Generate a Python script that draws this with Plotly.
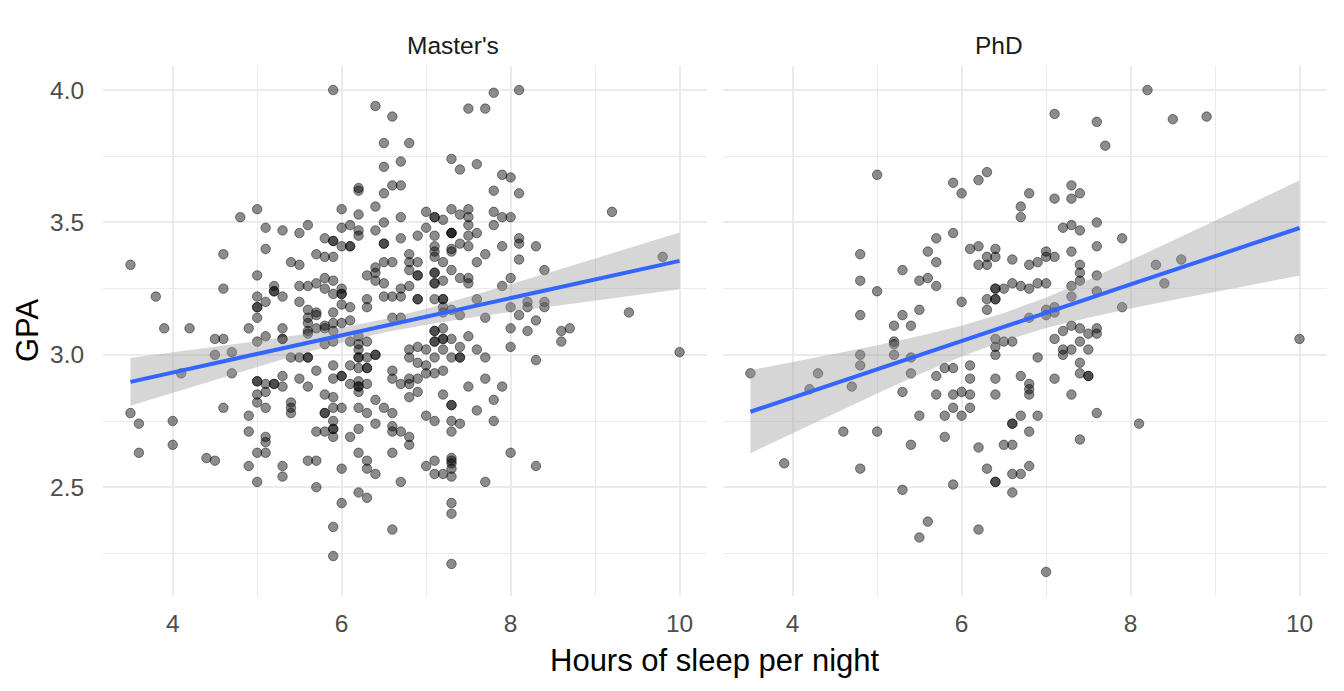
import plotly.graph_objects as go

# ── data ───────────────────────────────────────────────────────────────
PANELS = ["Master's", "PhD"]

masters_hours = (
    [3.5] * 2 + [3.6] * 2 + [3.8, 3.9] + [4.0] * 2 + [4.1, 4.2, 4.4] + [4.5] * 3
    + [4.6] * 4 + [4.7] * 2 + [4.8] + [4.9] * 4 + [5.0] * 13 + [5.1] * 10
    + [5.2] * 5 + [5.3] * 9 + [5.4] * 5 + [5.5] * 6 + [5.6] * 11 + [5.7] * 9
    + [5.8] * 11 + [5.9] * 20 + [6.0] * 13 + [6.1] * 9 + [6.2] * 19 + [6.3] * 12
    + [6.4] * 11 + [6.5] * 10 + [6.6] * 12 + [6.7] * 10 + [6.8] * 12 + [6.9] * 10
    + [7.0] * 7 + [7.1] * 20 + [7.2] * 14 + [7.3] * 23 + [7.4] * 9 + [7.5] * 10
    + [7.6] * 6 + [7.7] * 6 + [7.8] * 6 + [7.9] * 5 + [8.0] * 7 + [8.1] * 6
    + [8.2] * 3 + [8.3] * 4 + [8.4] * 3 + [8.6] * 2 + [8.7, 9.2, 9.4, 9.8, 10.0]
)
masters_gpa = [
    3.34, 2.78, 2.74, 2.63, 3.22, 3.10, 2.75, 2.66, 2.93, 3.10, 2.61, 3.06, 3.00, 2.60,
    3.38, 3.25, 3.06, 2.80, 3.01, 2.93, 3.52, 3.10, 2.77, 2.71, 2.58,
    3.55, 3.30, 3.22, 3.18, 3.18, 3.14, 3.05, 2.90, 2.90, 2.85, 2.82, 2.63, 2.52,
    3.48, 3.40, 3.20, 3.07, 2.89, 2.86, 2.80, 2.69, 2.67, 2.63,
    3.26, 3.24, 3.24, 2.89, 2.89,
    3.47, 3.22, 3.10, 3.06, 3.06, 2.92, 2.88, 2.58, 2.54,
    3.35, 2.99, 2.82, 2.80, 2.78,
    3.46, 3.34, 3.26, 3.20, 2.99, 2.91,
    3.49, 3.26, 3.17, 3.14, 3.12, 3.09, 3.08, 2.99, 2.99, 2.88, 2.60,
    3.38, 3.27, 3.16, 3.15, 3.10, 2.94, 2.71, 2.60, 2.50,
    3.44, 3.37, 3.29, 3.25, 3.11, 3.10, 3.04, 2.85, 2.78, 2.78, 2.71,
    4.00, 3.43, 3.43, 3.37, 3.28, 3.23, 3.16, 3.12, 3.09, 3.05, 2.96, 2.91, 2.84, 2.80,
    2.75, 2.72, 2.72, 2.69, 2.35, 2.24,
    3.55, 3.48, 3.41, 3.25, 3.23, 3.23, 3.19, 3.12, 2.92, 2.92, 2.80, 2.57, 2.44,
    3.49, 3.41, 3.41, 3.18, 3.13, 3.05, 2.96, 2.89, 2.69,
    3.63, 3.62, 3.53, 3.47, 3.45, 3.07, 3.04, 3.02, 2.99, 2.99, 2.95, 2.90, 2.88, 2.88,
    2.86, 2.80, 2.72, 2.63, 2.48,
    3.30, 3.21, 3.18, 3.05, 2.99, 2.95, 2.95, 2.89, 2.78, 2.60, 2.57, 2.46,
    3.94, 3.56, 3.47, 3.33, 3.31, 3.28, 3.00, 3.00, 2.83, 2.74, 2.55,
    3.80, 3.71, 3.61, 3.50, 3.42, 3.42, 3.35, 3.27, 3.22, 2.80,
    3.90, 3.64, 3.35, 3.22, 3.14, 2.94, 2.91, 2.78, 2.73, 2.71, 2.63, 2.34,
    3.73, 3.64, 3.52, 3.44, 3.25, 3.22, 3.14, 2.89, 2.71, 2.52,
    3.80, 3.38, 3.35, 3.32, 3.26, 3.02, 2.99, 2.91, 2.89, 2.84, 2.69, 2.66,
    3.45, 3.35, 3.30, 3.30, 3.21, 3.21, 3.03, 2.97, 2.91, 2.86,
    3.54, 3.48, 3.02, 2.96, 2.93, 2.77, 2.58,
    3.52, 3.52, 3.45, 3.41, 3.39, 3.37, 3.31, 3.31, 3.27, 3.27, 3.21, 3.09, 3.09, 3.05,
    3.05, 2.99, 2.93, 2.75, 2.60, 2.55,
    3.51, 3.35, 3.28, 3.21, 3.21, 3.18, 3.16, 3.10, 3.06, 3.06, 3.02, 2.94, 2.85, 2.55,
    3.74, 3.55, 3.46, 3.46, 3.46, 3.40, 3.39, 3.32, 3.17, 3.06, 2.99, 2.81, 2.81, 2.75,
    2.71, 2.61, 2.60, 2.59, 2.57, 2.54, 2.44, 2.40, 2.21,
    3.70, 3.53, 3.42, 3.29, 3.15, 3.03, 2.99, 2.99, 2.74,
    3.93, 3.55, 3.52, 3.49, 3.45, 3.41, 3.29, 3.27, 3.07, 2.88,
    3.72, 3.46, 3.35, 3.21, 3.02, 2.79,
    3.93, 3.38, 3.14, 2.99, 2.91, 2.52,
    3.99, 3.62, 3.54, 3.49, 2.83, 2.75,
    3.68, 3.52, 3.41, 3.26, 2.88,
    3.67, 3.52, 3.29, 3.18, 3.10, 3.03, 2.63,
    4.00, 3.61, 3.44, 3.42, 3.36, 3.15,
    3.20, 3.18, 3.09,
    3.41, 3.13, 2.98, 2.58,
    3.32, 3.20, 3.18,
    3.09, 3.05, 3.10, 3.54, 3.16, 3.37, 3.01,
]

phd_hours = (
    [3.5, 3.9, 4.2, 4.3, 4.6, 4.7] + [4.8] * 6 + [5.0] * 3 + [5.2] * 4 + [5.3] * 4
    + [5.4] * 4 + [5.5] * 4 + [5.6] * 3 + [5.7] * 5 + [5.8] * 3 + [5.9] * 6
    + [6.0] * 4 + [6.1] * 5 + [6.2] * 5 + [6.3] * 6 + [6.4] * 13 + [6.5] * 3
    + [6.6] * 8 + [6.7] * 6 + [6.8] * 9 + [6.9] * 4 + [7.0] * 6 + [7.1] * 7
    + [7.2] * 4 + [7.3] * 9 + [7.4] * 10 + [7.5] * 4 + [7.6] * 8 + [7.7]
    + [7.9] * 2 + [8.1, 8.2, 8.3, 8.4, 8.5, 8.6, 8.9, 10.0]
)
phd_gpa = [
    2.93, 2.59, 2.87, 2.93, 2.71, 2.88,
    3.38, 3.28, 3.15, 3.00, 2.96, 2.57,
    3.68, 3.24, 2.71,
    3.11, 3.05, 3.04, 3.00,
    3.32, 3.15, 2.86, 2.49,
    3.11, 2.99, 2.93, 2.66,
    3.28, 3.17, 2.77, 2.31,
    3.39, 3.29, 2.37,
    3.44, 3.35, 3.26, 2.92, 2.85,
    2.95, 2.77, 2.69,
    3.65, 3.46, 2.95, 2.85, 2.80, 2.51,
    3.61, 3.20, 2.86, 2.77,
    3.40, 2.96, 2.91, 2.85, 2.80,
    3.66, 3.41, 3.34, 2.65, 2.34,
    3.69, 3.37, 3.34, 3.21, 3.17, 2.57,
    3.40, 3.37, 3.25, 3.25, 3.21, 3.21, 3.06, 3.03, 3.00, 2.91, 2.85, 2.52, 2.52,
    3.25, 3.05, 2.66,
    3.36, 3.27, 3.05, 2.74, 2.74, 2.66, 2.55, 2.48,
    3.56, 3.52, 3.26, 2.92, 2.77, 2.55,
    3.61, 3.34, 3.25, 3.14, 2.89, 2.87, 2.85, 2.71, 2.58,
    3.35, 3.27, 2.99, 2.77,
    3.39, 3.37, 3.27, 3.17, 3.15, 2.18,
    3.91, 3.59, 3.37, 3.18, 3.16, 3.06, 2.91,
    3.48, 3.09, 3.02, 3.00,
    3.64, 3.59, 3.49, 3.39, 3.26, 3.22, 3.11, 3.02, 2.85,
    3.61, 3.47, 3.34, 3.31, 3.28, 3.10, 3.05, 2.97, 2.93, 2.68,
    3.08, 3.02, 2.92, 2.92,
    3.88, 3.50, 3.41, 3.30, 3.24, 3.10, 3.08, 2.78,
    3.79,
    3.44, 3.18,
    2.74, 4.00, 3.34, 3.27, 3.89, 3.36, 3.90, 3.06,
]

# lm fit and 95% band
fit_hours = [3.5, 4.0, 4.5, 5.0, 5.5, 6.0, 6.5, 7.0, 7.5, 8.0, 8.5, 9.0, 9.5, 10.0]
masters_fit = [2.898, 2.933, 2.968, 3.003, 3.039, 3.074, 3.109, 3.144, 3.179, 3.214,
               3.250, 3.285, 3.320, 3.355]
masters_lo = [2.808, 2.857, 2.906, 2.954, 3.002, 3.046, 3.084, 3.114, 3.139, 3.162,
              3.185, 3.206, 3.227, 3.248]
masters_hi = [2.988, 3.009, 3.030, 3.052, 3.076, 3.102, 3.134, 3.174, 3.219, 3.266,
              3.315, 3.364, 3.413, 3.462]
phd_fit = [2.785, 2.838, 2.892, 2.945, 2.999, 3.052, 3.105, 3.159, 3.212, 3.266,
           3.319, 3.372, 3.426, 3.479]
phd_lo = [2.628, 2.704, 2.780, 2.854, 2.927, 2.994, 3.052, 3.101, 3.140, 3.175,
          3.207, 3.238, 3.269, 3.299]
phd_hi = [2.942, 2.972, 3.004, 3.036, 3.071, 3.110, 3.158, 3.217, 3.284, 3.357,
          3.431, 3.506, 3.583, 3.659]

x_ticks = [4, 6, 8, 10]
y_ticks = [2.5, 3.0, 3.5, 4.0]

# ── style ──────────────────────────────────────────────────────────────
FONT = "Liberation Sans, Arial, sans-serif"
GRID = "#EBEBEB"
POINT = "rgba(0,0,0,0.45)"
LINE = "#3366FF"
BAND = "rgba(153,153,153,0.4)"
TICK_SIZE = 24.5
TITLE_SIZE = 31

fig = go.Figure()

panels = [
    (masters_hours, masters_gpa, masters_fit, masters_lo, masters_hi, "x", "y"),
    (phd_hours, phd_gpa, phd_fit, phd_lo, phd_hi, "x2", "y2"),
]
for hours, gpa, fit, lo, hi, xa, ya in panels:
    fig.add_trace(go.Scatter(
        x=hours, y=gpa, mode="markers", xaxis=xa, yaxis=ya,
        marker=dict(size=9.5, color=POINT, line=dict(width=1, color=POINT)),
        showlegend=False, hoverinfo="skip",
    ))
    fig.add_trace(go.Scatter(
        x=fit_hours + fit_hours[::-1], y=hi + lo[::-1],
        fill="toself", fillcolor=BAND, line=dict(width=0), mode="lines",
        xaxis=xa, yaxis=ya, showlegend=False, hoverinfo="skip",
    ))
    fig.add_trace(go.Scatter(
        x=fit_hours, y=fit, mode="lines", xaxis=xa, yaxis=ya,
        line=dict(color=LINE, width=4), showlegend=False,
    ))

xaxis_style = dict(
    range=[3.175, 10.325], tickvals=x_ticks, showgrid=True, gridcolor=GRID,
    gridwidth=2.2, zeroline=False, showline=False, ticks="outside", ticklen=6,
    tickcolor="rgba(0,0,0,0)", tickfont=dict(size=TICK_SIZE, color="#4D4D4D"),
    minor=dict(tick0=3, dtick=1, showgrid=True, gridcolor=GRID, gridwidth=1.1),
)
yaxis_style = dict(
    range=[2.089, 4.091], tickvals=y_ticks, showgrid=True,
    gridcolor=GRID, gridwidth=2.2, zeroline=False, showline=False,
    ticks="outside", ticklen=13, tickcolor="rgba(0,0,0,0)",
    tickfont=dict(size=TICK_SIZE, color="#4D4D4D"),
    minor=dict(tick0=2.25, dtick=0.5, showgrid=True, gridcolor=GRID, gridwidth=1.1),
)

fig.update_layout(
    width=1344, height=691,
    paper_bgcolor="white", plot_bgcolor="white",
    font=dict(family=FONT, color="#000000"),
    margin=dict(l=103, r=17, t=66, b=95),
    xaxis=dict(domain=[0, 0.4935], **xaxis_style),
    xaxis2=dict(domain=[0.5065, 1], **xaxis_style),
    yaxis=dict(tickformat=".1f", **yaxis_style),
    yaxis2=dict(anchor="x2", matches="y", showticklabels=False, **yaxis_style),
)

# facet strip labels
for label, xc in zip(PANELS, [0.4935 / 2, (0.5065 + 1) / 2]):
    fig.add_annotation(
        text=label, x=xc, y=1, xref="paper", yref="paper", yshift=21,
        yanchor="middle", showarrow=False,
        font=dict(size=TICK_SIZE, color="#1A1A1A"),
    )

fig.add_annotation(
    text="Hours of sleep per night", x=0.5, y=0, xref="paper", yref="paper",
    yshift=-64, yanchor="middle", showarrow=False, font=dict(size=TITLE_SIZE),
)
fig.add_annotation(
    text="GPA", x=0, y=0.5, xref="paper", yref="paper", xshift=-76,
    xanchor="center", textangle=-90, showarrow=False, font=dict(size=TITLE_SIZE),
)

fig.write_html(
    "out.html",
    config={"displayModeBar": False},
    post_script="document.body.style.margin='0';",
)
